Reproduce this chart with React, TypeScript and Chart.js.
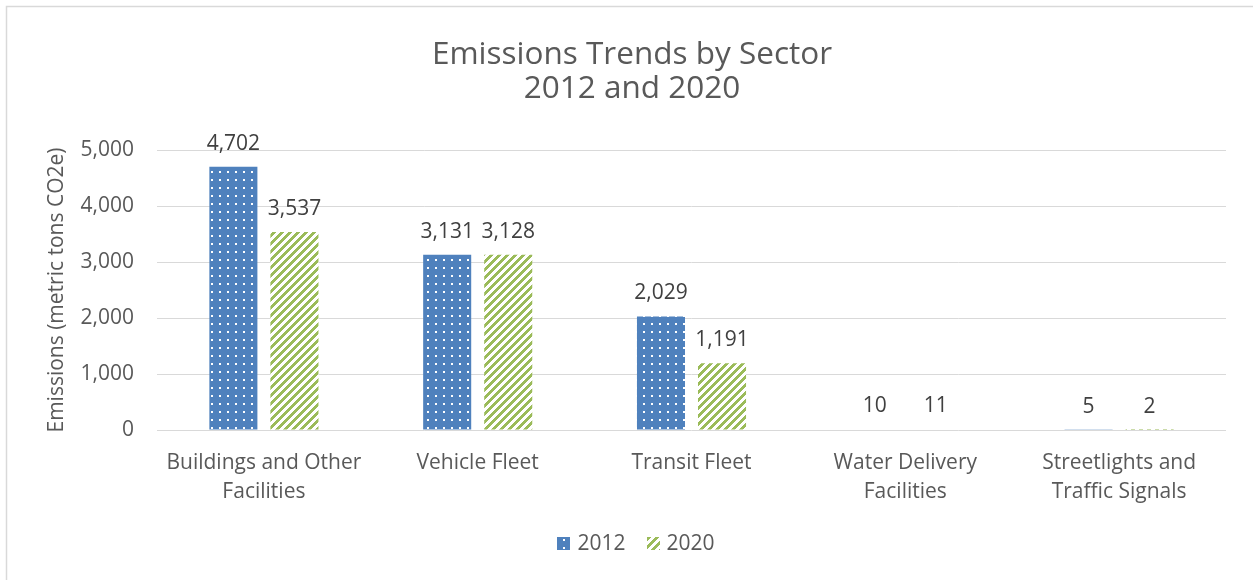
import React, { useEffect, useRef } from "react";
import { Chart, registerables } from "chart.js";

Chart.register(...registerables);

const categories: string[][] = [
  ["Buildings and Other", "Facilities"],
  ["Vehicle Fleet"],
  ["Transit Fleet"],
  ["Water Delivery", "Facilities"],
  ["Streetlights and", "Traffic Signals"],
];
const series2012: number[] = [4702, 3131, 2029, 10, 5];
const series2020: number[] = [3537, 3128, 1191, 11, 2];
const seriesNames: string[] = ["2012", "2020"];
const yTicks: number[] = [0, 1000, 2000, 3000, 4000, 5000];

const FONT = "'Open Sans', 'Noto Sans', sans-serif";
const BLUE = "#4F81BD";
const GREEN = "#9BBB59";

function makeDotPattern(): CanvasPattern | string {
  const c = document.createElement("canvas");
  c.width = 8;
  c.height = 8;
  const g = c.getContext("2d");
  if (!g) return BLUE;
  g.fillStyle = BLUE;
  g.fillRect(0, 0, 8, 8);
  g.fillStyle = "#ffffff";
  g.fillRect(3, 3, 2, 2);
  const p = g.createPattern(c, "repeat");
  return p || BLUE;
}

function makeStripePattern(): CanvasPattern | string {
  const c = document.createElement("canvas");
  c.width = 8;
  c.height = 8;
  const g = c.getContext("2d");
  if (!g) return GREEN;
  g.fillStyle = "#ffffff";
  g.fillRect(0, 0, 8, 8);
  g.fillStyle = GREEN;
  for (let y = 0; y < 8; y++) {
    for (let x = 0; x < 8; x++) {
      if ((x + y) % 8 < 4) g.fillRect(x, y, 1, 1);
    }
  }
  const p = g.createPattern(c, "repeat");
  return p || GREEN;
}

const dataLabelPlugin = {
  id: "dataLabels",
  afterDatasetsDraw(chart: any) {
    const ctx = chart.ctx;
    ctx.save();
    ctx.font = `21px ${FONT}`;
    ctx.fillStyle = "#404040";
    ctx.textAlign = "center";
    ctx.textBaseline = "alphabetic";
    chart.data.datasets.forEach((ds: any, i: number) => {
      const meta = chart.getDatasetMeta(i);
      meta.data.forEach((bar: any, j: number) => {
        const v = ds.data[j] as number;
        ctx.fillText(v.toLocaleString("en-US"), bar.x, bar.y - 17);
      });
    });
    ctx.restore();
  },
};

const legendPlugin = {
  id: "customLegend",
  afterDraw(chart: any) {
    const ctx = chart.ctx;
    ctx.save();
    ctx.font = `21px ${FONT}`;
    ctx.textBaseline = "middle";
    ctx.textAlign = "left";
    const box = 13;
    const gapText = 7;
    const gapItem = 21;
    const cy = 543.5;
    const items = chart.data.datasets.map((ds: any) => ({
      label: ds.label as string,
      fill: ds.backgroundColor,
      w: ctx.measureText(ds.label).width,
    }));
    let total = 0;
    items.forEach((it: any, i: number) => {
      total += box + gapText + it.w + (i > 0 ? gapItem : 0);
    });
    let x = 636 - total / 2;
    items.forEach((it: any) => {
      ctx.fillStyle = it.fill;
      ctx.fillRect(Math.round(x), Math.round(cy - box / 2), box, box);
      ctx.fillStyle = "#595959";
      ctx.fillText(it.label, x + box + gapText, cy + 1);
      x += box + gapText + it.w + gapItem;
    });
    ctx.restore();
  },
};

const framePlugin = {
  id: "frame",
  beforeDraw(chart: any) {
    const ctx = chart.ctx;
    ctx.save();
    ctx.fillStyle = "#ffffff";
    ctx.fillRect(0, 0, chart.width, chart.height);
    ctx.strokeStyle = "#d9d9d9";
    ctx.lineWidth = 1.5;
    ctx.beginPath();
    ctx.moveTo(6.5, chart.height);
    ctx.lineTo(6.5, 6.5);
    ctx.lineTo(chart.width, 6.5);
    ctx.stroke();
    ctx.restore();
  },
};

export default function App() {
  const ref = useRef<HTMLCanvasElement | null>(null);

  useEffect(() => {
    if (!ref.current) return;
    const chart = new Chart(ref.current, {
      type: "bar",
      data: {
        labels: categories,
        datasets: [
          {
            label: seriesNames[0],
            data: series2012,
            backgroundColor: makeDotPattern() as any,
            borderWidth: 0,
            categoryPercentage: 0.571,
            barPercentage: 0.787,
          },
          {
            label: seriesNames[1],
            data: series2020,
            backgroundColor: makeStripePattern() as any,
            borderWidth: 0,
            categoryPercentage: 0.571,
            barPercentage: 0.787,
          },
        ],
      },
      options: {
        animation: false,
        responsive: false,
        devicePixelRatio: 1,
        layout: { padding: { top: 0, left: 38, right: 27, bottom: 63 } },
        plugins: {
          title: {
            display: true,
            text: ["Emissions Trends by Sector", "2012 and 2020"],
            color: "#595959",
            font: { family: FONT, size: 31.5, weight: "normal", lineHeight: 1.08 },
            padding: { top: 38, bottom: 44 },
          },
          legend: { display: false },
          tooltip: { enabled: false },
        },
        scales: {
          x: {
            grid: { display: false },
            border: { display: false },
            ticks: {
              color: "#595959",
              font: { family: FONT, size: 21, lineHeight: 1.36 },
              padding: 11,
              maxRotation: 0,
              autoSkip: false,
            },
            afterFit: (s: any) => {
              s.height = 87;
            },
          },
          y: {
            min: 0,
            max: 5000,
            afterBuildTicks: (s: any) => {
              s.ticks = yTicks.map((v) => ({ value: v }));
            },
            grid: { color: "#d9d9d9", lineWidth: 1, drawTicks: false },
            border: { display: false },
            ticks: {
              color: "#595959",
              font: { family: FONT, size: 21 },
              padding: 23,
              callback: (v: any) => Number(v).toLocaleString("en-US"),
            },
            title: {
              display: true,
              text: "Emissions (metric tons CO2e)",
              color: "#595959",
              font: { family: FONT, size: 21 },
              padding: { top: 6, bottom: 0 },
            },
            afterFit: (s: any) => {
              s.width = 119;
            },
          },
        },
      },
      plugins: [framePlugin, dataLabelPlugin, legendPlugin],
    });
    return () => chart.destroy();
  }, []);

  return (
    <div style={{ position: "absolute", left: 0, top: 0, width: 1253, height: 580 }}>
      <canvas ref={ref} width={1253} height={580} style={{ width: 1253, height: 580, display: "block" }} />
    </div>
  );
}
